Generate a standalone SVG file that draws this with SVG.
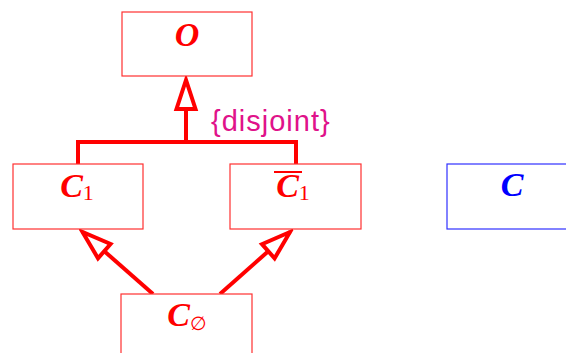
<svg xmlns="http://www.w3.org/2000/svg" width="566" height="353" viewBox="0 0 566 353">
<style>
.box{fill:#fff;stroke:#ff3030;stroke-width:1.2}
.bbox{fill:#fff;stroke:#3030ff;stroke-width:1.2}
.lbl{font-family:"Liberation Serif",serif;font-style:italic;font-weight:bold;font-size:34px;fill:#ff0000;text-anchor:middle}
.sub{font-style:normal;font-weight:normal;font-size:22px}
.con{fill:none;stroke:#ff0000;stroke-width:4}
.note{font-family:"Liberation Sans",Arial,sans-serif;font-size:29px;letter-spacing:1px;fill:#e0128a}
</style>
<defs>
<marker id="tri" markerUnits="userSpaceOnUse" markerWidth="40" markerHeight="40" viewBox="-36 -14 40 28" refX="0" refY="0" orient="auto">
<polygon points="0,0 -29,-9.5 -29,9.5" fill="#fff" stroke="#ff0000" stroke-width="4" stroke-linejoin="miter"/>
</marker>
</defs>
<g id="connectors">
<path class="con" d="M78,164 V142 H296 V164"/>
<path class="con" d="M186,142 V80" marker-end="url(#tri)"/>
<path class="con" d="M153,294 L82.5,232" marker-end="url(#tri)"/>
<path class="con" d="M220,294 L290,232" marker-end="url(#tri)"/>
</g>
<text class="note" x="211" y="131">{disjoint}</text>
<g id="O">
<rect class="box" x="122" y="12" width="130" height="64"/>
<text class="lbl" x="187" y="46">O</text>
</g>
<g id="C1">
<rect class="box" x="13" y="164" width="130" height="65"/>
<text class="lbl" x="77" y="197">C<tspan class="sub" dy="3">1</tspan></text>
</g>
<g id="C1bar">
<rect class="box" x="230" y="164" width="131" height="65"/>
<text class="lbl" x="293" y="197">C<tspan class="sub" dy="3">1</tspan></text>
<line x1="274" y1="172" x2="302" y2="172" stroke="#ff0000" stroke-width="2"/>
</g>
<g id="C">
<rect class="bbox" x="447" y="164" width="131" height="65"/>
<text class="lbl" x="512" y="196" style="fill:#0000ff">C</text>
</g>
<g id="C0">
<rect class="box" x="121" y="294" width="131" height="70"/>
<text class="lbl" x="187" y="326">C<tspan class="sub" dy="4" style="font-size:19px">∅</tspan></text>
</g>
</svg>
